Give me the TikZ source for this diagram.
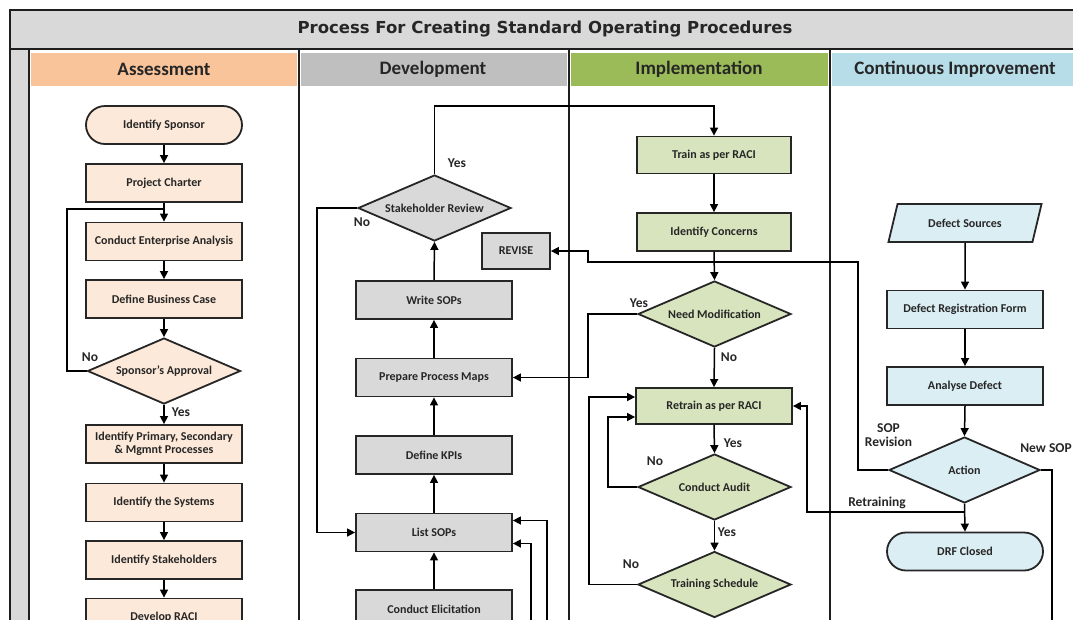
\documentclass[tikz,border=0pt]{standalone}
\usepackage{fontspec}
\setmainfont{Carlito}
\newfontfamily\sopTitleFont{DejaVu Sans}
\usetikzlibrary{shapes.geometric,arrows.meta,calc}

\definecolor{inkcol}{HTML}{262626}
\definecolor{edgecol}{HTML}{262626}
\definecolor{framecol}{HTML}{1E1E1E}
\definecolor{bandgrey}{HTML}{D9D9D9}
\definecolor{hdrAssess}{HTML}{F9C49A}
\definecolor{hdrDevel}{HTML}{BFBFBF}
\definecolor{hdrImpl}{HTML}{9BBB59}
\definecolor{hdrCont}{HTML}{B7DDE8}
\definecolor{fillAssess}{HTML}{FDE9D9}
\definecolor{fillDevel}{HTML}{D9D9D9}
\definecolor{fillImpl}{HTML}{D7E4BD}
\definecolor{fillCont}{HTML}{DBEEF4}

\newcommand{\sopNodeFont}{\bfseries\fontsize{12}{13.5}\selectfont}
\newcommand{\sopLabelFont}{\bfseries\fontsize{13.5}{15}\selectfont}
\newcommand{\sopHeadFont}{\bfseries\fontsize{19}{22}\selectfont}

\begin{document}
\begin{tikzpicture}[x=1pt,y=-1pt,
  proc/.style={draw=edgecol, line width=1.8pt, minimum width=156pt,
    minimum height=38pt, inner sep=1pt, align=center, text=inkcol,
    font=\sopNodeFont},
  term/.style={proc, rounded corners=19pt},
  decide/.style={diamond, aspect=2.3, draw=edgecol, line width=1.8pt,
    minimum width=153pt, minimum height=66pt, inner sep=0pt,
    text=inkcol, font=\sopNodeFont},
  dataio/.style={trapezium, trapezium left angle=64, trapezium right angle=116,
    trapezium stretches=true, draw=edgecol, line width=1.8pt,
    minimum width=154pt, minimum height=38pt, inner sep=1pt,
    text=inkcol, font=\sopNodeFont},
  lbl/.style={text=inkcol, font=\sopLabelFont, inner sep=0pt, align=center},
  lanehead/.style={text=inkcol, font=\sopHeadFont, inner sep=0pt},
  line/.style={draw=black, line width=1.5pt},
  arr/.style={line, -{Triangle[length=8pt,width=8pt]}},
  lanerule/.style={draw=framecol, line width=1.6pt},
]
\useasboundingbox (0,0) rectangle (1073,619);
\clip (0,0) rectangle (1073,619);

% ---------- frame, title band and lane headers ----------
\fill[bandgrey] (10,10) rectangle (1090,49);
\fill[bandgrey] (10,49) rectangle (29,650);
\fill[hdrAssess] (31,53) rectangle (297,86);
\fill[hdrDevel]  (301,53) rectangle (567,86);
\fill[hdrImpl]   (571,53) rectangle (828,86);
\fill[hdrCont]   (832,53) rectangle (1090,86);
\draw[framecol, line width=2pt] (10,650) -- (10,10) -- (1090,10);
\draw[lanerule] (10,49) -- (1090,49);
\draw[lanerule] (29,49) -- (29,650);
\draw[lanerule] (299,49) -- (299,650);
\draw[lanerule] (569,49) -- (569,650);
\draw[lanerule] (830,49) -- (830,650);

\node[text=inkcol, font=\sopTitleFont\bfseries\fontsize{16.5}{19}\selectfont, inner sep=0pt]
  (title) at (545,29.5) {Process For Creating Standard Operating Procedures};
\node[lanehead] (hA) at (164,69.5) {Assessment};
\node[lanehead] (hD) at (433,69.5) {Development};
\node[lanehead] (hI) at (699,69.5) {Implementation};
\node[lanehead] (hC) at (955,69.5) {Continuous Improvement};

% ---------- Assessment ----------
\begin{scope}[every node/.append style={fill=fillAssess}]
\node[term]   (sponsor)  at (164,125)   {Identify Sponsor};
\node[proc]   (charter)  at (164,183)   {Project Charter};
\node[proc]   (analysis) at (164,241.5) {Conduct Enterprise Analysis};
\node[proc]   (bcase)    at (164,299)   {Define Business Case};
\node[decide] (approval) at (164,371)   {Sponsor’s Approval};
\node[proc]   (primary)  at (164,444)   {Identify Primary, Secondary\\\& Mgmnt Processes};
\node[proc]   (systems)  at (164,502.5) {Identify the Systems};
\node[proc]   (stake)    at (164,560)   {Identify Stakeholders};
\node[proc]   (raci)     at (164,617.5) {Develop RACI};
\end{scope}

% ---------- Development ----------
\begin{scope}[every node/.append style={fill=fillDevel}]
\node[decide] (review)  at (434.5,208) {Stakeholder Review};
\node[proc, minimum width=68pt, minimum height=36pt] (revise) at (516,251) {REVISE};
\node[proc]   (write)   at (434,300)   {Write SOPs};
\node[proc]   (maps)    at (434,377.5) {Prepare Process Maps};
\node[proc]   (kpis)    at (434,455)   {Define KPIs};
\node[proc]   (listsop) at (434,532.5) {List SOPs};
\node[proc]   (elicit)  at (434,609)   {Conduct Elicitation};
\end{scope}

% ---------- Implementation ----------
\begin{scope}[every node/.append style={fill=fillImpl}]
\node[proc, minimum width=154pt, minimum height=37pt] (train) at (714,155) {Train as per RACI};
\node[proc, minimum width=154pt] (concerns) at (714,232) {Identify Concerns};
\node[decide] (needmod)  at (714.5,314)   {Need Modification};
\node[proc, minimum height=36pt] (retrain) at (714,406) {Retrain as per RACI};
\node[decide] (audit)    at (714.5,487)   {Conduct Audit};
\node[decide] (schedule) at (714.5,584.5) {Training Schedule};
\end{scope}

% ---------- Continuous Improvement ----------
\begin{scope}[every node/.append style={fill=fillCont}]
\node[dataio] (sources) at (965,223)   {Defect Sources};
\node[proc]   (drf)     at (965,309.5) {Defect Registration Form};
\node[proc]   (analyse) at (965,386)   {Analyse Defect};
\node[decide, minimum width=151pt] (action) at (964.5,470) {Action};
\node[term]   (closed)  at (965,551.5) {DRF Closed};
\end{scope}

% ---------- connectors: Assessment ----------
\draw[arr] (sponsor.south) -- (charter.north);
\draw[arr] (charter.south) -- (analysis.north);
\draw[arr] (analysis.south) -- (bcase.north);
\draw[arr] (bcase.south) -- (approval.north);
\coordinate (apprNo) at (67,209);
\draw[line] (approval.west) -| (apprNo) -- (analysis.north |- apprNo);
\draw[arr] (approval.south) -- (primary.north);
\draw[arr] (primary.south) -- (systems.north);
\draw[arr] (systems.south) -- (stake.north);
\draw[arr] (stake.south) -- (raci.north);
\node[lbl] (lApprNo)  at (90,357)  {No};
\node[lbl] (lApprYes) at (181,412) {Yes};

% ---------- connectors: Development ----------
\draw[arr] (elicit.north) -- (listsop.south);
\draw[arr] (listsop.north) -- (kpis.south);
\draw[arr] (kpis.north) -- (maps.south);
\draw[arr] (maps.north) -- (write.south);
\draw[arr] (write.north) -- (review.south);
\coordinate (revYes) at (434.5,106);
\draw[arr] (review.north) -- (revYes) -| (train.north);
\coordinate (revNo) at (317,208);
\draw[arr] (review.west) -- (revNo) |- (listsop.west);
\node[lbl] (lRevYes) at (457,163) {Yes};
\node[lbl] (lRevNo)  at (362,222) {No};
\coordinate (feedOuter) at (547,650);
\coordinate (feedInner) at (531,650);
\draw[arr] (feedOuter) |- ($(listsop.east)+(0,-12)$);
\draw[arr] (feedInner) |- ($(listsop.east)+(0,11)$);

% ---------- connectors: Implementation ----------
\draw[arr] (train.south) -- (concerns.north);
\draw[arr] (concerns.south) -- (needmod.north);
\coordinate (modYes) at (588,314);
\draw[arr] (needmod.west) -- (modYes) |- (maps.east);
\draw[arr] (needmod.south) -- (retrain.north);
\draw[arr] (retrain.south) -- (audit.north);
\draw[arr] (audit.south) -- (schedule.north);
\coordinate (auditNo) at (608,487);
\draw[arr] (audit.west) -- (auditNo) |- ($(retrain.west)+(0,11)$);
\coordinate (schedNo) at (589,584.5);
\draw[arr] (schedule.west) -- (schedNo) |- ($(retrain.west)+(0,-9)$);
\node[lbl] (lModYes)   at (639,303) {Yes};
\node[lbl] (lModNo)    at (729,357) {No};
\node[lbl] (lRetrYes)  at (733,443) {Yes};
\node[lbl] (lAuditNo)  at (655,461) {No};
\node[lbl] (lAuditYes) at (727,532) {Yes};
\node[lbl] (lSchedNo)  at (631,564) {No};

% ---------- connectors: Continuous Improvement ----------
\draw[arr] (sources.south) -- (drf.north);
\draw[arr] (drf.south) -- (analyse.north);
\draw[arr] (analyse.south) -- (action.north);
\draw[arr] (action.south) -- (closed.north);
\coordinate (retrJoin) at (964.5,512);
\coordinate (retrCorner) at (807,512);
\draw[arr] (retrJoin) -- (retrCorner) |- (retrain.east);
\coordinate (sopRevCorner) at (858,470);
\coordinate (sopRevJog) at (588,262);
\draw[arr] (action.west) -- (sopRevCorner) |- (sopRevJog) |- (revise.east);
\coordinate (newSopCorner) at (1052,470);
\coordinate (newSopEnd) at (1052,650);
\draw[line] (action.east) -- (newSopCorner) -- (newSopEnd);
\node[lbl] (lSopRev)  at (888.5,435.5) {SOP\\[-1pt]Revision};
\node[lbl] (lNewSop)  at (1046,448.5) {New SOP};
\node[lbl] (lRetrain) at (877,503) {Retraining};

\end{tikzpicture}
\end{document}
